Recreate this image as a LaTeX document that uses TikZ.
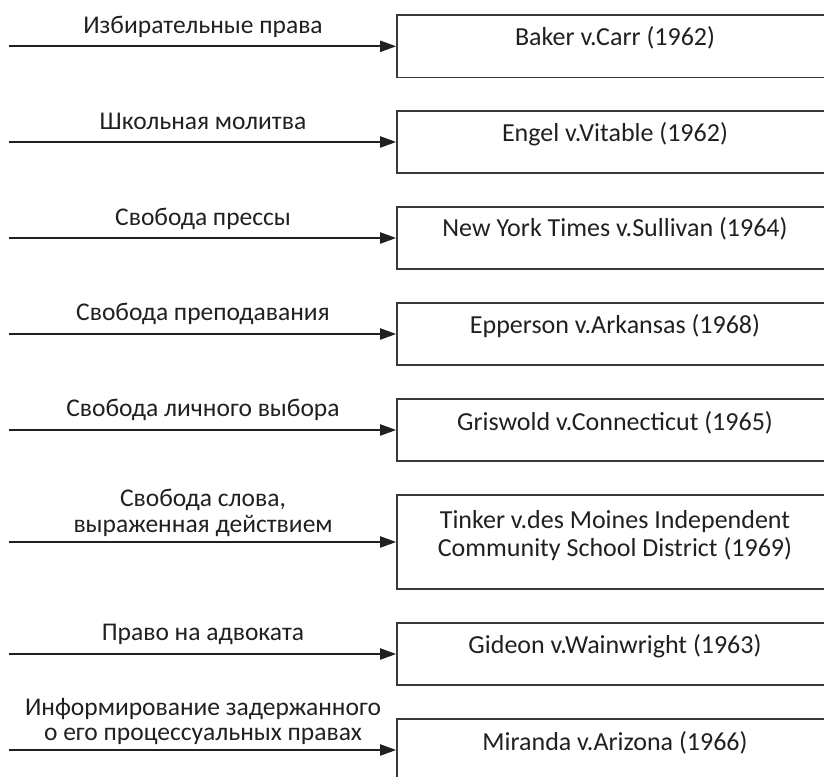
\documentclass[tikz,border=0pt]{standalone}
\usepackage{fontspec}
\setmainfont{Carlito}
\usetikzlibrary{arrows.meta}
\definecolor{ink}{HTML}{231F20}
\definecolor{frame}{HTML}{3A3A3A}
\tikzset{
  casebox/.style={draw=frame, line width=1.6pt, minimum width=436pt, inner sep=0pt},
  casetxt/.style={text=ink, font=\fontsize{26}{28.7}\selectfont, inner sep=0pt, anchor=base},
  lbl/.style={text=ink, font=\fontsize{25.5}{25.8}\selectfont, inner sep=0pt, anchor=base},
  arr/.style={draw=ink, line width=2pt, -{Triangle[length=16pt,width=11pt]}}
}
\begin{document}
\begin{tikzpicture}[x=1pt,y=-1pt]
\useasboundingbox (0,0) rectangle (824,776);
% boxes
\node[casebox, minimum height=62pt] (b1) at (615,46.3) {};
\node[casebox, minimum height=62pt] (b2) at (615,142) {};
\node[casebox, minimum height=62pt] (b3) at (615,238) {};
\node[casebox, minimum height=62pt] (b4) at (615,334) {};
\node[casebox, minimum height=62pt] (b5) at (615,430) {};
\node[casebox, minimum height=94pt] (b6) at (615,542) {};
\node[casebox, minimum height=62pt] (b7) at (615,654) {};
\node[casebox, minimum height=62pt] (b8) at (615,750) {};
% box texts
\node[casetxt] (t1) at (615,46) {Baker v.Carr (1962)};
\node[casetxt] (t2) at (615,141.7) {Engel v.Vitable (1962)};
\node[casetxt] (t3) at (615,236.7) {New York Times v.Sullivan (1964)};
\node[casetxt] (t4) at (615,333.3) {Epperson v.Arkansas (1968)};
\node[casetxt] (t5) at (615,430) {Griswold v.Connecticut (1965)};
\node[casetxt] (t6a) at (615,528) {Tinker v.des Moines Independent};
\node[casetxt] (t6b) at (615,556.7) {Community School District (1969)};
\node[casetxt] (t7) at (615,653.3) {Gideon v.Wainwright (1963)};
\node[casetxt] (t8) at (615,750) {Miranda v.Arizona (1966)};
% arrow starts
\coordinate (s1) at (9,46.3);
\coordinate (s2) at (9,142);
\coordinate (s3) at (9,238);
\coordinate (s4) at (9,334);
\coordinate (s5) at (9,430);
\coordinate (s6) at (9,542);
\coordinate (s7) at (9,654);
\coordinate (s8) at (9,750);
\foreach \i in {1,...,8} { \draw[arr] (s\i) -- (b\i.west); }
% labels
\node[lbl] (l1) at (203,33.3) {Избирательные права};
\node[lbl] (l2) at (203,129.3) {Школьная молитва};
\node[lbl] (l3) at (203,225) {Свобода прессы};
\node[lbl] (l4) at (203,320) {Свобода преподавания};
\node[lbl] (l5) at (203,416) {Свобода личного выбора};
\node[lbl] (l6a) at (203,506.7) {Свобода слова,};
\node[lbl] (l6b) at (203,532.7) {выраженная действием};
\node[lbl] (l7) at (203,640) {Право на адвоката};
\node[lbl] (l8a) at (203,715) {Информирование задержанного};
\node[lbl] (l8b) at (203,740) {о его процессуальных правах};
\end{tikzpicture}
\end{document}
